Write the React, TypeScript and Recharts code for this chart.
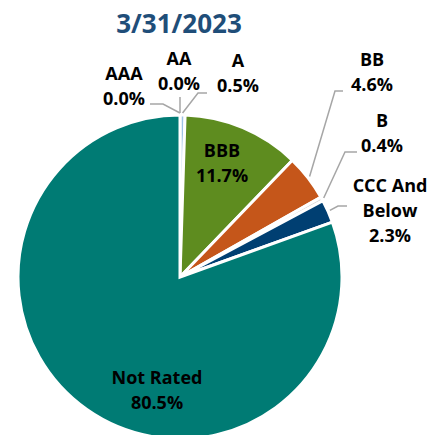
import React from 'react';
import { PieChart, Pie, Cell } from 'recharts';

const categories = ['AAA', 'AA', 'A', 'BBB', 'BB', 'B', 'CCC And Below', 'Not Rated'];
const shares = [0.0, 0.0, 0.5, 11.7, 4.6, 0.4, 2.3, 80.5];
const title = '3/31/2023';

const colors: Record<string, string> = {
  AAA: '#2E75B6',
  AA: '#1F4E79',
  A: '#9DC3E6',
  BBB: '#5E8C1F',
  BB: '#C5561A',
  B: '#D9D9D9',
  'CCC And Below': '#003F72',
  'Not Rated': '#007B74',
};

// label layout relative to pie centre: text lines, text centre, leader elbow & end
type LabelLayout = {
  lines: string[];
  x: number;
  y: number;
  leader?: [number, number][];
};
const labelLayout: Record<string, LabelLayout> = {
  AAA: { lines: ['AAA'], x: -56, y: -204, leader: [[-17, -173], [-30, -173]] },
  AA: { lines: ['AA'], x: -1, y: -219, leader: [[0, -180]] },
  A: { lines: ['A'], x: 58, y: -217, leader: [[18, -184], [27, -184]] },
  BBB: { lines: ['BBB'], x: 42, y: -127 },
  BB: { lines: ['BB'], x: 192, y: -218, leader: [[155, -186], [163, -186]] },
  B: { lines: ['B'], x: 202, y: -157, leader: [[165, -125], [177, -125]] },
  'CCC And Below': { lines: ['CCC And', 'Below'], x: 210, y: -92, leader: [[158, -71], [167, -71]] },
  'Not Rated': { lines: ['Not Rated'], x: -23, y: 100 },
};

const data = categories.map((name, i) => ({ name, value: shares[i] }));

const FONT = "'Open Sans', sans-serif";
const RAD = Math.PI / 180;

const renderLabel = (props: any) => {
  const { cx, cy, midAngle, outerRadius, name, value } = props;
  const layout = labelLayout[name];
  if (!layout) return null;
  const lines = [...layout.lines, `${Number(value).toFixed(1)}%`];
  const tx = cx + layout.x;
  const ty = cy + layout.y;
  let path: string | null = null;
  if (layout.leader) {
    const r = outerRadius + 2;
    const sx = cx + r * Math.cos(-midAngle * RAD);
    const sy = cy + r * Math.sin(-midAngle * RAD);
    path = `M${sx},${sy}` + layout.leader.map(([dx, dy]) => ` L${cx + dx},${cy + dy}`).join('');
  }
  return (
    <g key={`lbl-${name}`}>
      {path && <path d={path} stroke="#A6A6A6" strokeWidth={1.5} fill="none" />}
      {lines.map((t, i) => (
        <text
          key={i}
          x={tx}
          y={ty + i * 25}
          textAnchor="middle"
          dominantBaseline="central"
          fontFamily={FONT}
          fontWeight={700}
          fontSize={18}
          fill="#000"
        >
          {t}
        </text>
      ))}
    </g>
  );
};

export default function App() {
  return (
    <div style={{ position: 'absolute', left: 0, top: 0, width: 427, height: 435, background: '#fff' }}>
      <PieChart width={427} height={435} margin={{ top: 0, right: 0, bottom: 0, left: 0 }}>
        <text
          x={179}
          y={23}
          textAnchor="middle"
          dominantBaseline="central"
          fontFamily={FONT}
          fontWeight={700}
          fontSize={26}
          fill="#1F4E79"
        >
          {title}
        </text>
        <Pie
          data={data}
          dataKey="value"
          nameKey="name"
          cx={180}
          cy={277}
          outerRadius={162}
          startAngle={90}
          endAngle={-270}
          stroke="#FFFFFF"
          strokeWidth={3}
          label={renderLabel}
          labelLine={false}
          isAnimationActive={false}
        >
          {data.map((d) => (
            <Cell key={d.name} fill={colors[d.name]} />
          ))}
        </Pie>
      </PieChart>
    </div>
  );
}
